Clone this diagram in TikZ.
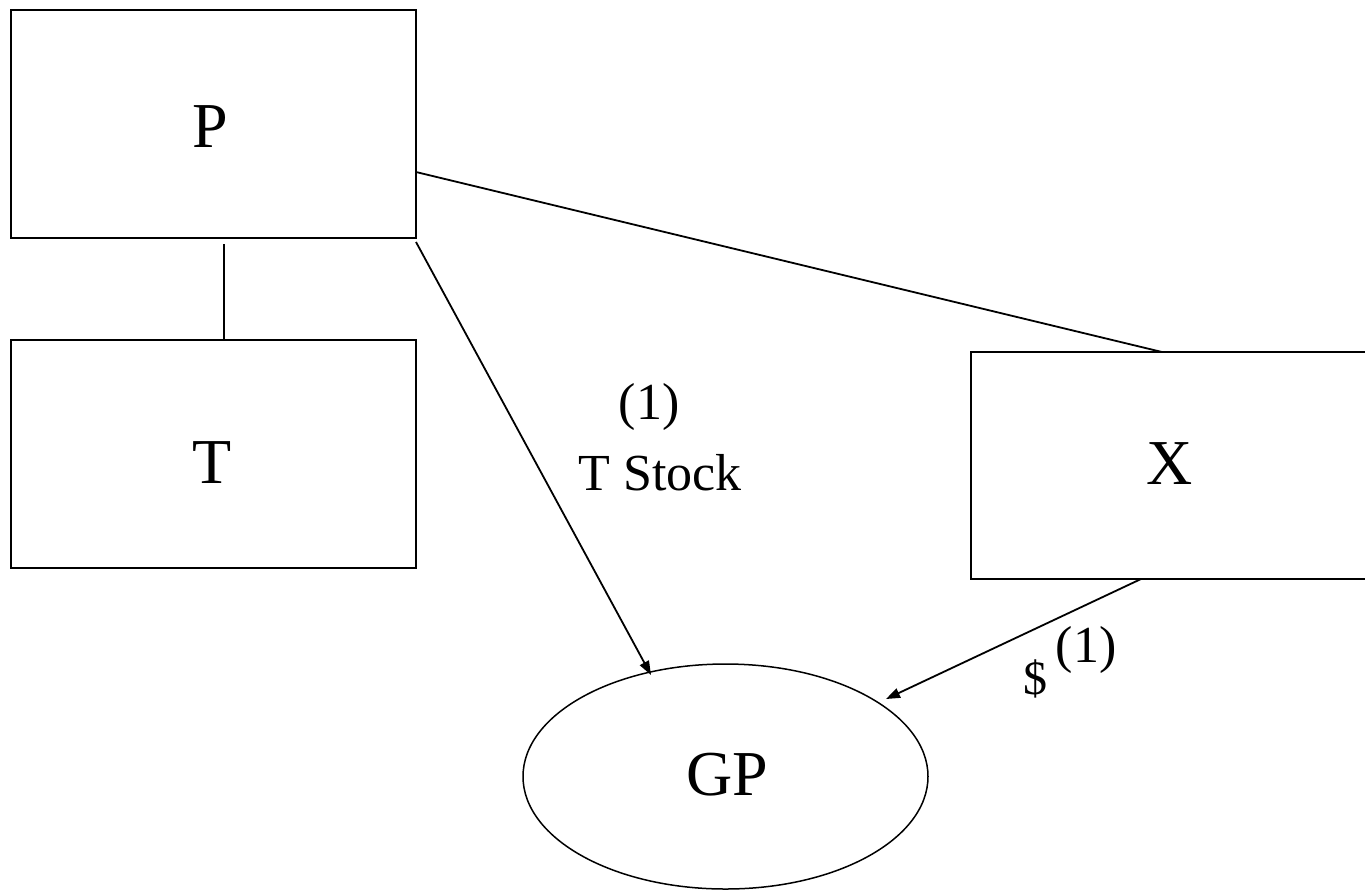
\documentclass[tikz,border=0pt]{standalone}
\usepackage{fontspec}
\setmainfont{Liberation Serif}
\usetikzlibrary{arrows.meta,shapes.geometric}
\begin{document}
\begin{tikzpicture}[x=0.5pt,y=-0.5pt,
  boxnode/.style={draw,line width=1pt,rectangle,inner sep=0pt,outer sep=0pt,minimum width=202.5pt,minimum height=114pt},
  ovalnode/.style={draw,line width=0.75pt,ellipse,inner sep=0pt,outer sep=0pt,minimum width=202.5pt,minimum height=112.5pt},
  bigtext/.style={anchor=base,inner sep=0pt,font=\fontsize{32}{38}\selectfont},
  smalltext/.style={anchor=base,inner sep=0pt,font=\fontsize{26}{31}\selectfont},
  conn/.style={line width=0.9pt},
  arr/.style={conn,-{Triangle[length=7pt,width=5pt]}}]
\useasboundingbox (0,0) rectangle (1365,891);
\node[boxnode] (P) at (213.5,124) {};
\node[boxnode] (T) at (213.5,454) {};
\node[boxnode,minimum width=202pt,minimum height=113.5pt] (X) at (1173,465.5) {};
\node[ovalnode] (GP) at (725.5,776.5) {};
\node[bigtext] (lP) at (210,147) {P};
\node[bigtext] (lT) at (212,483) {T};
\node[bigtext] (lX) at (1170,484) {X};
\node[bigtext] (lGP) at (727,795) {GP};
\node[smalltext] (lone) at (649,419) {(1)};
\node[smalltext] (lstock) at (660,490) {T Stock};
\node[anchor=base,inner sep=0pt,font=\fontsize{24}{29}\selectfont] (ldollar) at (1035,694) {\$};
\node[smalltext] (lsup) at (1086,662) {(1)};
\draw[conn] ([xshift=5.25pt,yshift=-3pt]P.south) -- ([xshift=5.25pt]T.north);
\draw[conn] ([yshift=-24pt]P.east) -- ([xshift=-5.5pt]X.north);
\draw[arr] ([yshift=-2pt]P.south east) -- ([xshift=-37.25pt,yshift=50.75pt]GP.center);
\draw[arr] ([xshift=-16pt]X.south) -- ([xshift=80.25pt,yshift=38.75pt]GP.center);
\end{tikzpicture}
\end{document}
